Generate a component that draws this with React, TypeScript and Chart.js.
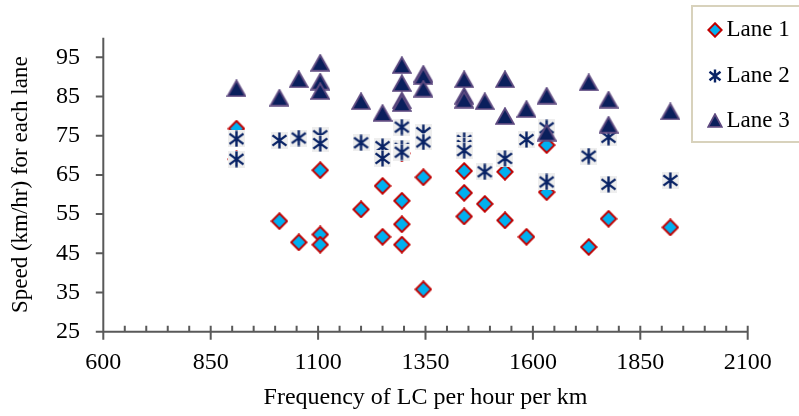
import React, { useEffect, useRef } from 'react';
import { Chart, registerables } from 'chart.js';

Chart.register(...registerables);

// ---- Data ----
const laneLabels = ['Lane 1', 'Lane 2', 'Lane 3'];

const lane1Freq = [910, 910, 1010, 1055, 1105, 1105, 1105, 1200, 1250, 1250, 1295, 1295, 1295, 1295, 1345, 1345, 1440, 1440, 1440, 1488, 1535, 1535, 1585, 1632, 1632, 1730, 1776, 1920];
const lane1Speed = [76.8, 69.0, 53.2, 47.8, 66.2, 49.8, 47.2, 56.2, 62.2, 49.2, 70.5, 58.4, 52.4, 47.2, 64.4, 35.8, 66.0, 60.4, 54.4, 57.6, 65.8, 53.4, 49.2, 72.6, 60.6, 46.6, 53.8, 51.6];

const lane2Freq = [910, 910, 1010, 1055, 1105, 1105, 1200, 1250, 1250, 1295, 1295, 1295, 1345, 1345, 1440, 1440, 1440, 1488, 1535, 1585, 1632, 1632, 1730, 1776, 1776, 1920];
const lane2Speed = [74.2, 69.0, 73.8, 74.4, 75.0, 73.0, 73.2, 72.2, 69.2, 77.2, 71.8, 70.8, 75.8, 73.4, 73.8, 72.5, 71.2, 65.8, 69.2, 74.0, 77.0, 63.2, 69.8, 74.6, 62.6, 63.6];

const lane3Freq = [910, 1010, 1055, 1105, 1105, 1105, 1200, 1250, 1295, 1295, 1295, 1295, 1345, 1345, 1345, 1440, 1440, 1440, 1488, 1535, 1535, 1585, 1632, 1632, 1730, 1776, 1776, 1920];
const lane3Speed = [87.1, 84.7, 89.4, 93.6, 88.8, 86.4, 83.8, 80.8, 93.0, 88.4, 84.0, 83.3, 90.8, 90.2, 87.0, 89.4, 85.2, 84.2, 83.8, 89.4, 80.0, 81.8, 85.2, 75.8, 88.6, 84.2, 77.8, 81.2];

const xTickValues = [600, 850, 1100, 1350, 1600, 1850, 2100];
const yTickValues = [25, 35, 45, 55, 65, 75, 85, 95];

const X_TITLE = 'Frequency of LC per hour per km';
const Y_TITLE = 'Speed (km/hr) for each lane';

const FONT_FAMILY = "'Liberation Serif', 'Times New Roman', Times, serif";

// ---- Marker images ----
function makeDiamond(size: number): HTMLCanvasElement {
  const c = document.createElement('canvas');
  c.width = size; c.height = size;
  const g = c.getContext('2d')!;
  const h = size / 2;
  const r = h - 1.3;
  g.beginPath();
  g.moveTo(h, h - r); g.lineTo(h + r, h); g.lineTo(h, h + r); g.lineTo(h - r, h); g.closePath();
  g.fillStyle = '#00b0f0';
  g.fill();
  g.lineWidth = 2;
  g.strokeStyle = '#c00000';
  g.lineJoin = 'miter';
  g.stroke();
  return c;
}

function makeAsterisk(size: number, bg: boolean): HTMLCanvasElement {
  const c = document.createElement('canvas');
  c.width = size; c.height = size;
  const g = c.getContext('2d')!;
  if (bg) { g.fillStyle = '#eeeeee'; g.fillRect(0, 0, size, size); }
  const h = size / 2;
  g.strokeStyle = '#082265';
  g.lineWidth = 2.4;
  g.beginPath();
  g.moveTo(h, 0.5); g.lineTo(h, size - 0.5);
  g.moveTo(1.5, size * 0.2); g.lineTo(size - 1.5, size * 0.8);
  g.moveTo(size - 1.5, size * 0.2); g.lineTo(1.5, size * 0.8);
  g.stroke();
  return c;
}

function makeTriangle(w: number, hgt: number): HTMLCanvasElement {
  const c = document.createElement('canvas');
  c.width = w; c.height = hgt;
  const g = c.getContext('2d')!;
  g.beginPath();
  g.moveTo(w / 2, 1.2); g.lineTo(w - 1.2, hgt - 1.2); g.lineTo(1.2, hgt - 1.2); g.closePath();
  g.fillStyle = '#0a1f5c';
  g.fill();
  g.lineWidth = 1.8;
  g.strokeStyle = '#5e4a80';
  g.lineJoin = 'miter';
  g.stroke();
  return c;
}

function toPoints(xs: number[], ys: number[]) {
  return xs.map((x, i) => ({ x, y: ys[i] }));
}

export default function App() {
  const canvasRef = useRef<HTMLCanvasElement | null>(null);

  useEffect(() => {
    document.body.style.margin = '0';
    const canvas = canvasRef.current;
    if (!canvas) return;

    const diamond = makeDiamond(18);
    const asterisk = makeAsterisk(17, true);
    const triangle = makeTriangle(20, 18);
    const legDiamond = makeDiamond(16);
    const legAsterisk = makeAsterisk(14, false);
    const legTriangle = makeTriangle(16, 15);

    const axesPlugin = {
      id: 'customAxes',
      beforeDatasetsDraw(chart: any) {
        const { ctx, scales } = chart;
        const x = scales.x, y = scales.y;
        const left = x.left, right = x.right, top = y.top, bottom = y.bottom;
        ctx.save();
        ctx.strokeStyle = '#595959';
        ctx.lineWidth = 2;
        ctx.beginPath();
        ctx.moveTo(left, top); ctx.lineTo(left, bottom); ctx.lineTo(right, bottom);
        for (const v of yTickValues) {
          const py = y.getPixelForValue(v);
          ctx.moveTo(left - 7.5, py); ctx.lineTo(left, py);
        }
        for (let i = 0; i < xTickValues.length; i++) {
          const px = x.getPixelForValue(xTickValues[i]);
          ctx.moveTo(px, bottom - 6); ctx.lineTo(px, bottom + 8);
          if (i < xTickValues.length - 1) {
            const step = (xTickValues[i + 1] - xTickValues[i]) / 5;
            for (let k = 1; k < 5; k++) {
              const mx = x.getPixelForValue(xTickValues[i] + step * k);
              ctx.moveTo(mx, bottom - 6); ctx.lineTo(mx, bottom);
            }
          }
        }
        ctx.stroke();
        ctx.restore();
      },
    };

    const legendPlugin = {
      id: 'customLegend',
      afterDraw(chart: any) {
        const { ctx } = chart;
        ctx.save();
        ctx.fillStyle = '#ffffff';
        ctx.fillRect(692, 6, 120, 136);
        ctx.strokeStyle = '#d8d2bc';
        ctx.lineWidth = 2;
        ctx.strokeRect(692, 6, 120, 136);
        const markers = [legDiamond, legAsterisk, legTriangle];
        const rows = [30, 76, 120];
        const baselines = [36, 81.5, 126.5];
        ctx.font = `23px ${FONT_FAMILY}`;
        ctx.fillStyle = '#000';
        ctx.textAlign = 'left';
        ctx.textBaseline = 'alphabetic';
        for (let i = 0; i < laneLabels.length; i++) {
          const m = markers[i];
          ctx.drawImage(m, Math.round(715 - m.width / 2), Math.round(rows[i] - m.height / 2));
          ctx.fillText(laneLabels[i], 726.5, baselines[i]);
        }
        ctx.restore();
      },
    };

    const tickFont = { family: FONT_FAMILY, size: 24 };

    const chart = new Chart(canvas, {
      type: 'scatter',
      data: {
        datasets: [
          {
            label: laneLabels[0],
            data: toPoints(lane1Freq, lane1Speed),
            pointStyle: diamond as any,
            pointRadius: 8,
            order: 3,
          },
          {
            label: laneLabels[1],
            data: toPoints(lane2Freq, lane2Speed),
            pointStyle: asterisk as any,
            pointRadius: 8,
            order: 2,
          },
          {
            label: laneLabels[2],
            data: toPoints(lane3Freq, lane3Speed),
            pointStyle: triangle as any,
            pointRadius: 8,
            order: 1,
          },
        ],
      },
      options: {
        responsive: false,
        animation: false,
        devicePixelRatio: 1,
        layout: { padding: { top: 19.2, right: 51.3, left: 0, bottom: 0 } },
        plugins: {
          legend: { display: false },
          tooltip: { enabled: false },
        },
        scales: {
          x: {
            type: 'linear',
            min: 600,
            max: 2100,
            afterFit: (s: any) => { s.height = 84.3; },
            afterBuildTicks: (s: any) => { s.ticks = xTickValues.map((v) => ({ value: v })); },
            ticks: {
              padding: 17,
              font: tickFont,
              color: '#000',
              maxRotation: 0,
              autoSkip: false,
              callback: (v: any) => String(v),
            },
            grid: { display: false, drawTicks: false },
            border: { display: false },
            title: {
              display: true,
              text: X_TITLE,
              font: { family: FONT_FAMILY, size: 24 },
              color: '#000',
              padding: { top: 0, bottom: 4 },
            },
          },
          y: {
            type: 'linear',
            min: 25,
            max: 100,
            afterFit: (s: any) => { s.width = 103.3; },
            afterBuildTicks: (s: any) => { s.ticks = yTickValues.map((v) => ({ value: v })); },
            ticks: {
              padding: 23.3,
              font: tickFont,
              color: '#000',
              autoSkip: false,
              callback: (v: any) => String(v),
            },
            grid: { display: false, drawTicks: false },
            border: { display: false },
            title: {
              display: true,
              text: Y_TITLE,
              font: { family: FONT_FAMILY, size: 23 },
              color: '#000',
              padding: { top: 7, bottom: 0 },
            },
          },
        },
      },
      plugins: [axesPlugin, legendPlugin],
    });

    return () => { chart.destroy(); };
  }, []);

  return (
    <div style={{ width: 799, height: 416, position: 'relative' }}>
      <canvas ref={canvasRef} width={799} height={416} style={{ display: 'block' }} />
    </div>
  );
}
